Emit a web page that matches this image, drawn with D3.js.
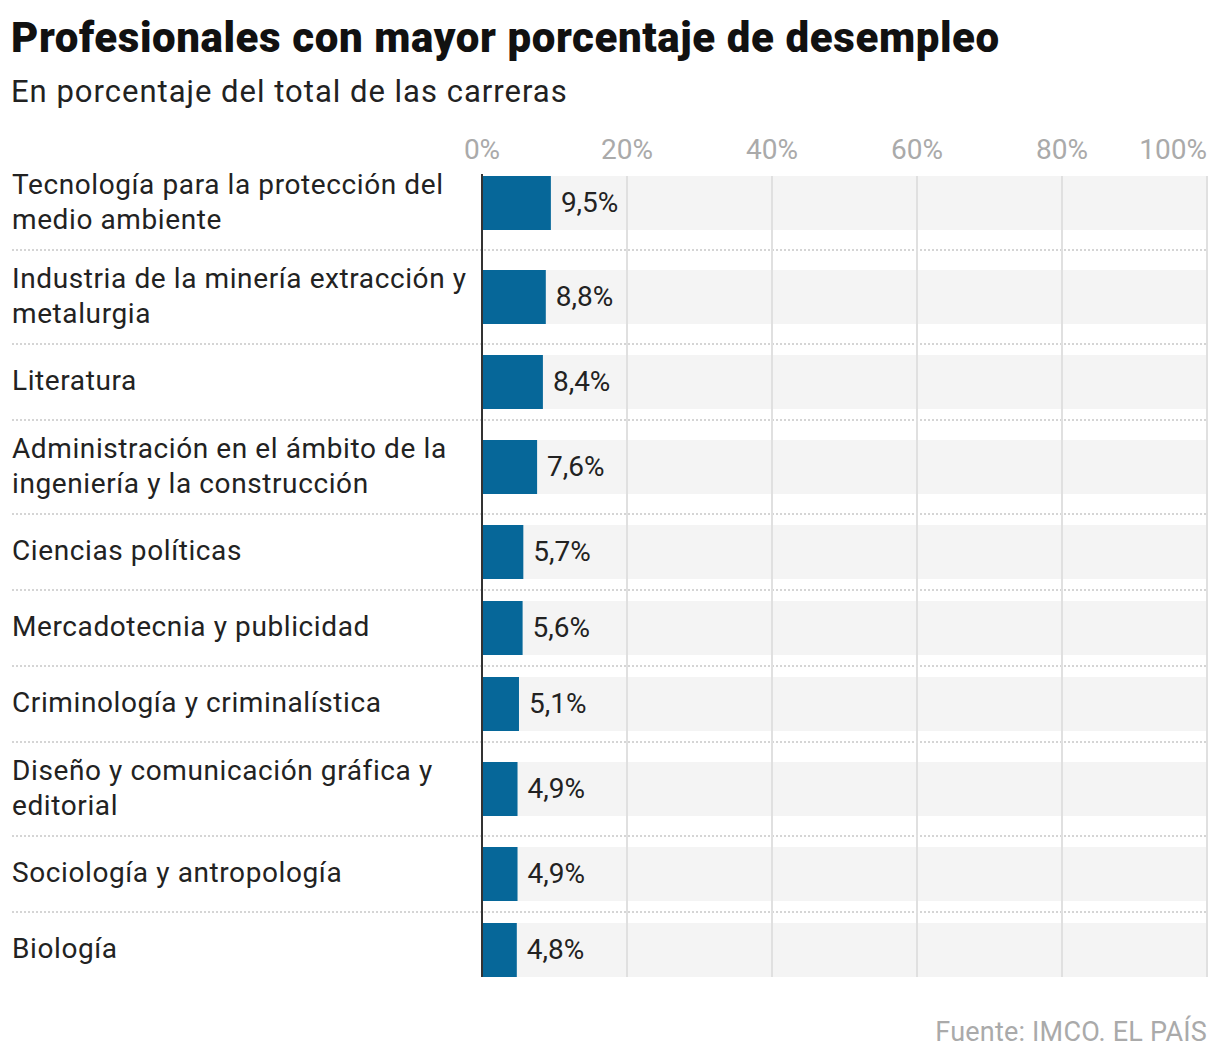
<!DOCTYPE html>
<html>
<head>
<meta charset="utf-8">
<script src="https://cdn.jsdelivr.net/npm/d3@7"></script>
<style>
  html, body { margin: 0; padding: 0; background: #fff; }
  svg { display: block; font-family: Roboto, "Noto Sans", sans-serif; }
</style>
</head>
<body>
<div id="chart"></div>
<script>
const categories = [
  'Tecnología para la protección del medio ambiente',
  'Industria de la minería extracción y metalurgia',
  'Literatura',
  'Administración en el ámbito de la ingeniería y la construcción',
  'Ciencias políticas',
  'Mercadotecnia y publicidad',
  'Criminología y criminalística',
  'Diseño y comunicación gráfica y editorial',
  'Sociología y antropología',
  'Biología'
];
const values = [9.5, 8.8, 8.4, 7.6, 5.7, 5.6, 5.1, 4.9, 4.9, 4.8];
const tickValues = [0, 20, 40, 60, 80, 100];

const title = 'Profesionales con mayor porcentaje de desempleo';
const subtitle = 'En porcentaje del total de las carreras';
const source = 'Fuente: IMCO. EL PAÍS';

const W = 1220, H = 1062;
const left = 482, right = 1207;
const labelX = 12, labelMaxWidth = 470;
const barH = 54, lineH = 35;
const labelSize = 28, labelSpacing = 0.6;

const svg = d3.select('#chart').append('svg')
  .attr('width', W)
  .attr('height', H);

svg.append('text')
  .attr('x', 11).attr('y', 52)
  .attr('font-size', 42).attr('font-weight', 900)
  .attr('fill', '#111')
  .attr('letter-spacing', 0.6)
  .text(title);

svg.append('text')
  .attr('x', 11).attr('y', 102)
  .attr('font-size', 31)
  .attr('fill', '#222')
  .attr('letter-spacing', 1.0)
  .text(subtitle);

const x = d3.scaleLinear().domain([0, 100]).range([left, right]);

// wrap the category labels to the label column width
const measure = svg.append('text')
  .attr('font-size', labelSize)
  .attr('letter-spacing', labelSpacing)
  .attr('visibility', 'hidden');
function wrap(str) {
  const words = str.split(' ');
  const lines = [];
  let cur = '';
  words.forEach(w => {
    const test = cur ? cur + ' ' + w : w;
    measure.text(test);
    if (cur && measure.node().getComputedTextLength() > labelMaxWidth) {
      lines.push(cur);
      cur = w;
    } else {
      cur = test;
    }
  });
  lines.push(cur);
  return lines;
}
const rows = categories.map((c, i) => ({ name: c, value: values[i], lines: wrap(c) }));
measure.remove();

// row heights depend on how many lines the label takes
let yPos = 156;
rows.forEach(r => {
  r.h = r.lines.length > 1 ? 94 : 76;
  r.top = yPos;
  r.mid = yPos + r.h / 2;
  yPos += r.h;
});

const first = rows[0], last = rows[rows.length - 1];

// background bands
svg.append('g').selectAll('rect')
  .data(rows)
  .enter().append('rect')
  .attr('x', x(0))
  .attr('y', d => d.mid - barH / 2)
  .attr('width', x(100) - x(0))
  .attr('height', barH)
  .attr('fill', '#f4f4f4');

// separators
svg.append('g').selectAll('line')
  .data(rows.slice(1))
  .enter().append('line')
  .attr('x1', labelX).attr('x2', right)
  .attr('y1', d => d.top).attr('y2', d => d.top)
  .attr('stroke', '#c8c8c8')
  .attr('stroke-width', 1.3)
  .attr('stroke-dasharray', '2,2');

// gridlines
svg.append('g').selectAll('line')
  .data(tickValues.slice(1))
  .enter().append('line')
  .attr('x1', d => x(d)).attr('x2', d => x(d))
  .attr('y1', first.mid - barH / 2)
  .attr('y2', last.mid + barH / 2)
  .attr('stroke', '#e0e0e0')
  .attr('stroke-width', 2);

// tick labels
svg.append('g').selectAll('text')
  .data(tickValues)
  .enter().append('text')
  .attr('x', d => x(d))
  .attr('y', 159)
  .attr('text-anchor', (d, i) => i === tickValues.length - 1 ? 'end' : 'middle')
  .attr('font-size', 28)
  .attr('fill', '#aaa')
  .text(d => d + '%');

// bars
svg.append('g').selectAll('rect')
  .data(rows)
  .enter().append('rect')
  .attr('x', x(0))
  .attr('y', d => d.mid - barH / 2)
  .attr('width', d => x(d.value) - x(0))
  .attr('height', barH)
  .attr('fill', '#066799');

// value labels
svg.append('g').selectAll('text')
  .data(rows)
  .enter().append('text')
  .attr('x', d => x(d.value) + 10)
  .attr('y', d => d.mid + 9)
  .attr('font-size', 28)
  .attr('fill', '#222')
  .text(d => d3.format('.1f')(d.value).replace('.', ',') + '%');

// category labels
const lab = svg.append('g').selectAll('text')
  .data(rows)
  .enter().append('text')
  .attr('font-size', labelSize)
  .attr('letter-spacing', labelSpacing)
  .attr('fill', '#222');
lab.each(function(d) {
  const n = d.lines.length;
  d3.select(this).selectAll('tspan')
    .data(d.lines)
    .enter().append('tspan')
    .attr('x', labelX)
    .attr('y', (l, i) => d.mid + 8 + (i - (n - 1) / 2) * lineH)
    .text(l => l);
});

// zero axis
svg.append('line')
  .attr('x1', x(0)).attr('x2', x(0))
  .attr('y1', first.mid - barH / 2 - 2)
  .attr('y2', last.mid + barH / 2)
  .attr('stroke', '#333')
  .attr('stroke-width', 2);

svg.append('text')
  .attr('x', right).attr('y', 1041)
  .attr('text-anchor', 'end')
  .attr('font-size', 27)
  .attr('letter-spacing', 0.2)
  .attr('fill', '#aaa')
  .text(source);
</script>
</body>
</html>
